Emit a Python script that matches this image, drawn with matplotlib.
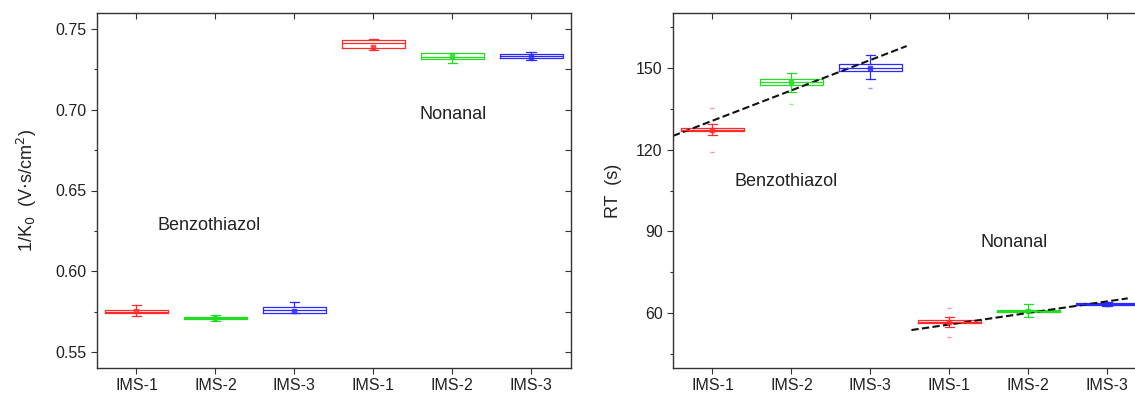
import matplotlib
matplotlib.use("Agg")
import matplotlib.pyplot as plt
from matplotlib.ticker import MultipleLocator, FixedLocator, FormatStrFormatter

plt.rcParams['font.family'] = ['Liberation Sans', 'DejaVu Sans']

categories = ['IMS-1', 'IMS-2', 'IMS-3', 'IMS-1', 'IMS-2', 'IMS-3']
box_colors = ['#ff2a2a', '#22dd22', '#2a2aff', '#ff2a2a', '#22dd22', '#2a2aff']

# Left panel: 1/K0 (V.s/cm2)
k0_lo = [0.5720, 0.5690, 0.5740, 0.7370, 0.7288, 0.7309]
k0_q1 = [0.5742, 0.5705, 0.5741, 0.7381, 0.7315, 0.7320]
k0_med = [0.5750, 0.5710, 0.5760, 0.7412, 0.7330, 0.7333]
k0_q3 = [0.5758, 0.5715, 0.5778, 0.7432, 0.7350, 0.7346]
k0_hi = [0.5790, 0.5730, 0.5810, 0.7436, 0.7354, 0.7360]
k0_mean = [0.5752, 0.5711, 0.5752, 0.7388, 0.7331, 0.7326]
k0_fliers = [[], [], [], [], [], []]

# Right panel: RT (s)
rt_lo = [125.2, 141.0, 145.7, 55.1, 58.5, 62.6]
rt_q1 = [126.8, 143.6, 148.7, 56.4, 60.6, 62.9]
rt_med = [127.3, 144.7, 150.0, 56.9, 61.0, 63.4]
rt_q3 = [127.8, 145.7, 151.3, 57.4, 61.4, 63.9]
rt_hi = [129.5, 148.2, 154.6, 58.8, 63.3, 64.2]
rt_mean = [127.3, 144.9, 149.8, 56.8, 61.0, 63.4]
rt_fliers = [[119.0, 135.3], [136.8], [142.6], [51.4, 61.8], [], []]

# Dashed trend lines (RT)
benz_fit_x = [0.5, 3.46]
benz_fit_y = [125.0, 157.9]
non_fit_x = [3.52, 6.26]
non_fit_y = [53.9, 65.5]

positions = [1, 2, 3, 4, 5, 6]

fig = plt.figure(figsize=(11.35, 3.93), dpi=100)
axL = fig.add_axes([97/1135, 25/393, 473.7/1135, 355/393])
axR = fig.add_axes([673/1135, 25/393, 473.7/1135, 355/393])


def draw_boxes(ax, lo, q1, med, q3, hi, mean, fliers):
    for i in range(len(positions)):
        st = dict(whislo=lo[i], q1=q1[i], med=med[i], q3=q3[i], whishi=hi[i],
                  mean=mean[i], fliers=fliers[i])
        c = box_colors[i]
        ax.bxp([st], positions=[positions[i]], widths=0.8, capwidths=0.12,
               showmeans=True, showfliers=True, patch_artist=False,
               boxprops=dict(color=c, linewidth=0.9),
               medianprops=dict(color=c, linewidth=0.9),
               whiskerprops=dict(color=c, linewidth=0.9),
               capprops=dict(color=c, linewidth=0.9),
               meanprops=dict(marker='s', markersize=2.2, markerfacecolor=c,
                              markeredgecolor=c, alpha=0.8),
               flierprops=dict(marker='_', markersize=3, markeredgecolor=c,
                               alpha=0.5, linestyle='none'),
               manage_ticks=False)


def style_axes(ax):
    ax.set_xlim(0.5, 6.5)
    ax.xaxis.set_major_locator(FixedLocator(positions))
    ax.set_xticklabels(categories)
    for s in ax.spines.values():
        s.set_color('#333333')
        s.set_linewidth(1.0)
    ax.tick_params(axis='both', which='both', direction='out', colors='#333333',
                   labelcolor='#222222', labelsize=11.5, width=0.8)
    ax.tick_params(which='major', length=4)
    ax.tick_params(which='minor', length=2.5)
    ax.tick_params(axis='x', which='minor', bottom=False, top=False)
    ax.tick_params(axis='x', which='both', top=False)
    ax.tick_params(axis='y', which='both', right=False)


draw_boxes(axL, k0_lo, k0_q1, k0_med, k0_q3, k0_hi, k0_mean, k0_fliers)
draw_boxes(axR, rt_lo, rt_q1, rt_med, rt_q3, rt_hi, rt_mean, rt_fliers)

axR.plot(benz_fit_x, benz_fit_y, color='#111111', lw=1.5, linestyle=(0, (3.5, 1.6)))
axR.plot(non_fit_x, non_fit_y, color='#111111', lw=1.5, linestyle=(0, (3.5, 1.6)))

axL.set_ylim(0.54, 0.76)
axL.yaxis.set_major_locator(MultipleLocator(0.05))
axL.yaxis.set_minor_locator(MultipleLocator(0.025))
axL.yaxis.set_major_formatter(FormatStrFormatter('%.2f'))
axR.set_ylim(40, 170)
axR.yaxis.set_major_locator(MultipleLocator(30))
axR.yaxis.set_minor_locator(MultipleLocator(15))

style_axes(axL)
style_axes(axR)

# mirrored ticks (top/right) point inward
for ax in (axL, axR):
    sx = ax.secondary_xaxis('top')
    sx.set_xticks(positions)
    sx.tick_params(direction='in', length=4, width=0.8, colors='#333333', labeltop=False)
    sx.set_xticklabels([])
    sy = ax.secondary_yaxis('right')
    sy.yaxis.set_major_locator(MultipleLocator(ax.yaxis.get_major_locator()._edge.step))
    sy.yaxis.set_minor_locator(MultipleLocator(ax.yaxis.get_minor_locator()._edge.step))
    sy.tick_params(which='both', direction='in', width=0.8, colors='#333333', labelright=False)
    sy.tick_params(which='major', length=4)
    sy.tick_params(which='minor', length=4)
    sy.spines['right'].set_visible(False)
    sx.spines['top'].set_visible(False)

axL.set_ylabel(r'1/K$_0$  (V$\cdot$s/cm$^2$)', fontsize=13, color='#222222', labelpad=12)
axR.set_ylabel('RT  (s)', fontsize=13, color='#222222', labelpad=10)

axL.text(1.26, 0.6286, 'Benzothiazol', fontsize=13, color='#222222', va='center', ha='left')
axL.text(4.59, 0.6968, 'Nonanal', fontsize=13, color='#222222', va='center', ha='left')
axR.text(1.28, 108.2, 'Benzothiazol', fontsize=13, color='#222222', va='center', ha='left')
axR.text(4.39, 85.8, 'Nonanal', fontsize=13, color='#222222', va='center', ha='left')

fig.savefig('out.png', dpi=100)
